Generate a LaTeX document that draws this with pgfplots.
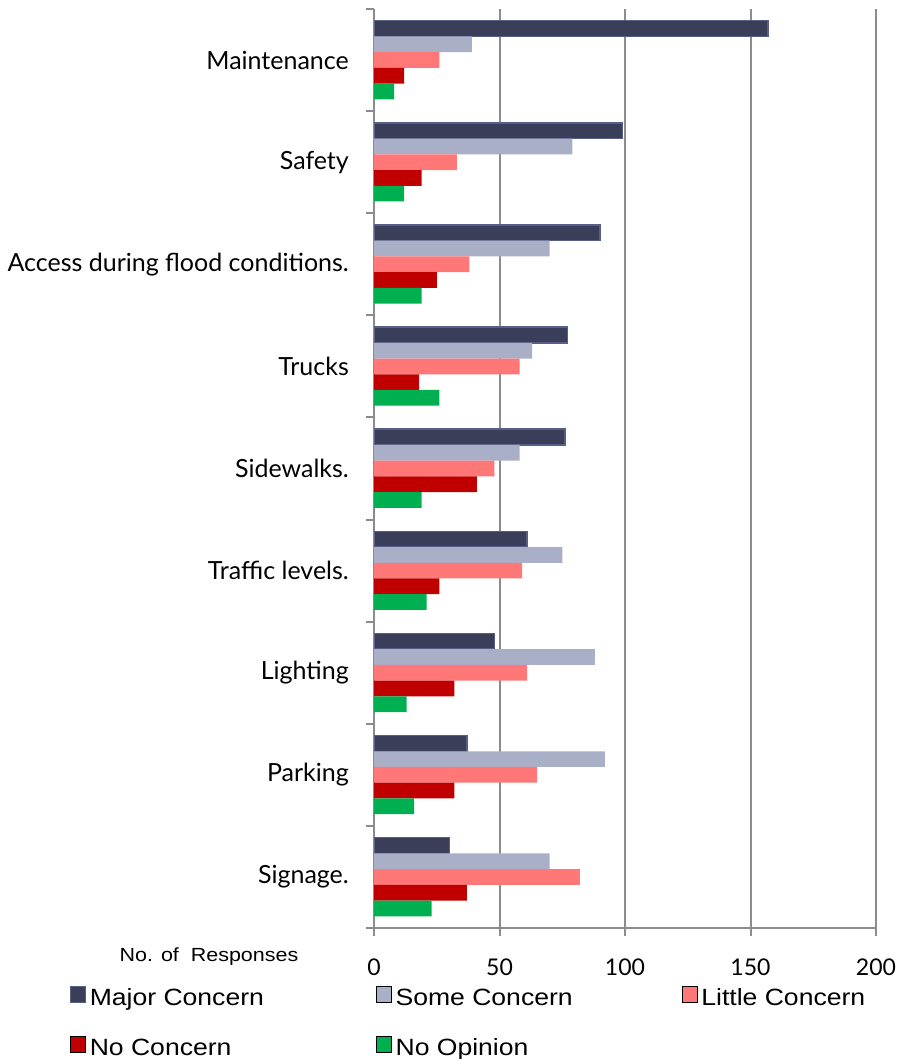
\documentclass[border=0pt]{standalone}
\usepackage{pgfplots}
\pgfplotsset{compat=1.18}
\usepackage{fontspec}
\setmainfont{Lato}
\newfontfamily\arialfont[FakeStretch=1.13]{Liberation Sans}
\definecolor{cMajor}{RGB}{58,62,88}
\definecolor{cMajorEdge}{RGB}{88,95,135}
\definecolor{cSome}{RGB}{170,175,200}
\definecolor{cLittle}{RGB}{255,119,119}
\definecolor{cNoC}{RGB}{192,0,0}
\definecolor{cNoOp}{RGB}{0,176,80}
\definecolor{gridgray}{RGB}{140,140,140}
\begin{document}
\begin{tikzpicture}
\useasboundingbox (0pt,0pt) rectangle (897pt,-1059pt);
\begin{axis}[
  at={(374pt,-928pt)}, anchor=south west,
  scale only axis, width=502pt, height=919pt,
  xmin=0, xmax=200, ymin=-0.5, ymax=8.5,
  axis x line*=bottom, axis y line*=left,
  axis line style={draw=gridgray, line width=2pt},
  tick align=outside,
  major tick length=8pt,
  tick style={draw=gridgray, line width=2pt},
  xtick={0,50,100,150,200},
  xmajorgrids,
  major grid style={draw=gridgray, line width=2pt},
  ytick={-0.5,0.5,...,8.5},
  yticklabels={},
  extra y ticks={0,1,2,3,4,5,6,7,8},
  extra y tick labels={Signage., Parking, Lighting, Traffic levels., Sidewalks., Trucks, Access during flood conditions., Safety, Maintenance},
  extra y tick style={major tick length=0pt, yticklabel style={font=\fontsize{25}{25}\selectfont, anchor=east, inner sep=0pt, xshift=-25pt}},
  xticklabel style={font=\fontsize{23}{23}\selectfont, anchor=center, yshift=-31pt, inner sep=0pt},
  /pgf/number format/assume math mode=true,
  xlabel={No. of\ \ Responses},
  xlabel style={at={(axis description cs:-0.3287,-0.0316)}, anchor=center, font=\arialfont\fontsize{19}{19}\selectfont, inner sep=0pt},
  legend style={draw=none, fill=none, inner sep=0pt, outer sep=0pt,
    at={(axis description cs:-0.6056,-0.0631)}, anchor=north west,
    legend columns=3, row sep=26pt,
    font=\arialfont\fontsize{23.5}{23.5}\selectfont,
    nodes={inner sep=0pt, text height=18pt, text depth=5pt},
    /tikz/every odd column/.style={column sep=4pt}},
  legend image code/.code={\draw[#1,/tikz/.cd,line width=0.8pt] (0pt,-3.5pt) rectangle (15pt,12.5pt);},
]
\addplot[xbar, bar width=0.154, bar shift=0.308, fill=cMajor, draw=cMajorEdge, line width=1.5pt]
  coordinates {(157,8) (99,7) (90,6) (77,5) (76,4) (61,3) (48,2) (37,1) (30,0)};
\addlegendentry{\makebox[286pt][l]{Major Concern}}
\addplot[xbar, bar width=0.154, bar shift=0.154, fill=cSome, draw=none]
  coordinates {(39,8) (79,7) (70,6) (63,5) (58,4) (75,3) (88,2) (92,1) (70,0)};
\addlegendentry{\makebox[286pt][l]{Some Concern}}
\addplot[xbar, bar width=0.154, bar shift=0, fill=cLittle, draw=none]
  coordinates {(26,8) (33,7) (38,6) (58,5) (48,4) (59,3) (61,2) (65,1) (82,0)};
\addlegendentry{\makebox[190pt][l]{Little Concern}}
\addplot[xbar, bar width=0.154, bar shift=-0.154, fill=cNoC, draw=none]
  coordinates {(12,8) (19,7) (25,6) (18,5) (41,4) (26,3) (32,2) (32,1) (37,0)};
\addlegendentry{\makebox[286pt][l]{No Concern}}
\addplot[xbar, bar width=0.154, bar shift=-0.308, fill=cNoOp, draw=none]
  coordinates {(8,8) (12,7) (19,6) (26,5) (19,4) (21,3) (13,2) (16,1) (23,0)};
\addlegendentry{\makebox[286pt][l]{No Opinion}}
\end{axis}
\end{tikzpicture}
\end{document}
